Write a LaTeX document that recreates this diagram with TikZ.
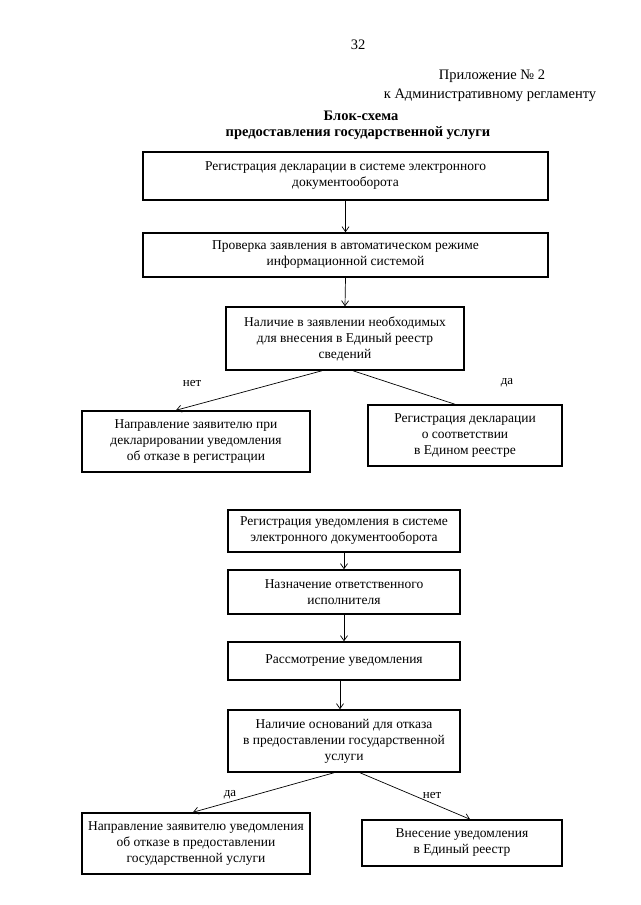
\documentclass[tikz,border=0pt]{standalone}
\usepackage{fontspec}
\setmainfont{Liberation Serif}
\usetikzlibrary{arrows.meta}
\begin{document}
\begin{tikzpicture}[x=1pt,y=-1pt,
  box/.style={draw, line width=1.5pt, align=center, inner sep=0pt,
    font=\fontsize{13.5}{16}\selectfont},
  conn/.style={line width=0.7pt, -{Straight Barb[length=5pt,width=7pt]}},
  plain/.style={line width=0.7pt},
  lbl/.style={font=\fontsize{13}{14}\selectfont},
  head/.style={font=\fontsize{14.5}{16}\selectfont},
  ttl/.style={font=\bfseries\fontsize{14.5}{16}\selectfont}]
\useasboundingbox[fill=white] (0,0) rectangle (640,905);
% header
\node[head] (pg) at (358,45) {32};
\node[head] (pr) at (492,76) {Приложение № 2};
\node[head] (kr) at (490,95) {к Административному регламенту};
\node[ttl] (t1) at (361,116) {Блок-схема};
\node[ttl] (t2) at (358,133) {предоставления государственной услуги};
% boxes, top part
\node[box, minimum width=405pt, minimum height=48pt] (b1) at (345.5,176) {Регистрация декларации в системе электронного\\документооборота};
\node[box, minimum width=405pt, minimum height=44pt] (b2) at (345.5,255) {Проверка заявления в автоматическом режиме\\информационной системой};
\node[box, minimum width=238pt, minimum height=63pt] (b3) at (345,338.5) {Наличие в заявлении необходимых\\для внесения в Единый реестр\\сведений};
\node[box, minimum width=228pt, minimum height=61pt] (b4) at (196,441.5) {Направление заявителю при\\декларировании уведомления\\об отказе в регистрации};
\node[box, minimum width=194pt, minimum height=61pt] (b5) at (465,435.5) {Регистрация декларации\\о соответствии\\в Едином реестре};
% bottom part
\node[box, minimum width=232pt, minimum height=42pt] (b6) at (344,531) {Регистрация уведомления в системе\\электронного документооборота};
\node[box, minimum width=232pt, minimum height=44pt] (b7) at (344,592) {Назначение ответственного\\исполнителя};
\node[box, minimum width=232pt, minimum height=38pt] (b8) at (344,661) {Рассмотрение уведомления};
\node[box, minimum width=232pt, minimum height=62pt] (b9) at (344,741) {Наличие оснований для отказа\\в предоставлении государственной\\услуги};
\node[box, minimum width=228pt, minimum height=61pt] (b10) at (196,843.5) {Направление заявителю уведомления\\об отказе в предоставлении\\государственной услуги};
\node[box, minimum width=200pt, minimum height=46pt] (b11) at (462,843) {Внесение уведомления\\в Единый реестр};
% connectors
\draw[conn] (b1.south) -- (b2.north);
\draw[conn] (b2.south) -- (b3.north);
\draw[conn] ([xshift=-23pt]b3.south) -- ([xshift=-20pt]b4.north);
\draw[plain] ([xshift=8pt]b3.south) -- ([xshift=-10pt]b5.north);
\node[lbl] (l1) at (192,383) {нет};
\node[lbl] (l2) at (507,383) {да};
\draw[conn] (b6.south) -- (b7.north);
\draw[conn] (b7.south) -- (b8.north);
\draw[conn] ([xshift=-4pt]b8.south) -- ([xshift=-4pt]b9.north);
\draw[conn] ([xshift=-10pt]b9.south) -- ([xshift=-3pt]b10.north);
\draw[conn] ([xshift=16pt]b9.south) -- ([xshift=8pt]b11.north);
\node[lbl] (l3) at (230,795) {да};
\node[lbl] (l4) at (432,795) {нет};
\end{tikzpicture}
\end{document}
